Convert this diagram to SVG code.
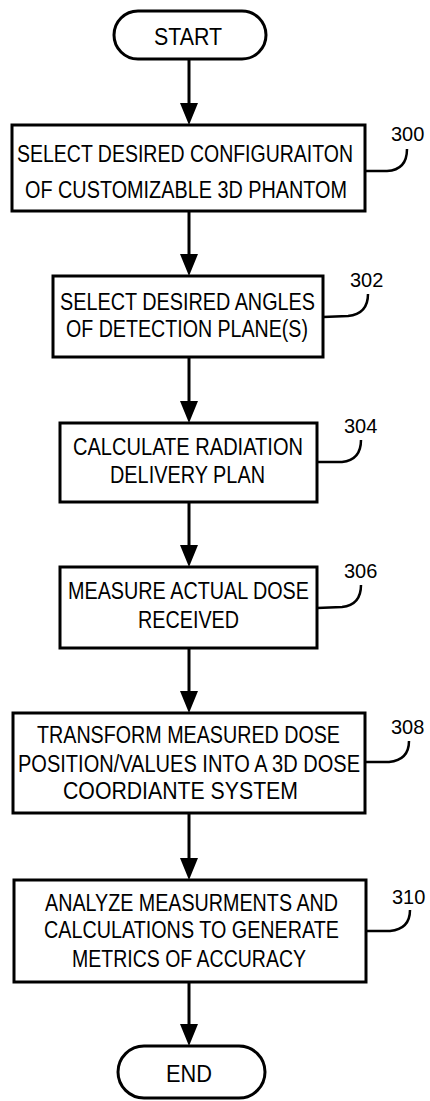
<svg xmlns="http://www.w3.org/2000/svg" width="430" height="1101" viewBox="0 0 430 1101">
<style>
.box{fill:#fff;stroke:#000;stroke-width:3}
.t{font-family:"Liberation Sans",Arial,sans-serif;font-size:24px;fill:#000;text-anchor:middle}
.n{font-family:"Liberation Sans",Arial,sans-serif;font-size:20px;fill:#000}
.c{fill:none;stroke:#000;stroke-width:3}
.ld{fill:none;stroke:#000;stroke-width:2.5}
</style>
<defs>
<marker id="ah" markerUnits="userSpaceOnUse" markerWidth="22" markerHeight="18" refX="12" refY="9" orient="auto" viewBox="0 0 22 18">
<path d="M0,0 L22,9 L0,18 z" fill="#000"/>
</marker>
</defs>
<rect width="430" height="1101" fill="#fff"/>
<g id="connectors">
<line class="c" x1="189" y1="60" x2="189" y2="115" marker-end="url(#ah)"/>
<line class="c" x1="189" y1="211" x2="189" y2="266" marker-end="url(#ah)"/>
<line class="c" x1="189" y1="357" x2="189" y2="413" marker-end="url(#ah)"/>
<line class="c" x1="189" y1="502" x2="189" y2="557" marker-end="url(#ah)"/>
<line class="c" x1="189" y1="648" x2="189" y2="703" marker-end="url(#ah)"/>
<line class="c" x1="189" y1="813" x2="189" y2="870" marker-end="url(#ah)"/>
<line class="c" x1="189" y1="982" x2="189" y2="1036" marker-end="url(#ah)"/>
</g>
<g id="start">
<rect class="box" x="114" y="11" width="152" height="48" rx="24"/>
<text class="t" x="188" y="45" textLength="68" lengthAdjust="spacingAndGlyphs">START</text>
</g>
<g id="n300">
<rect class="box" x="12" y="125" width="353" height="86"/>
<text class="t" transform="translate(185,162) scale(0.82,1)" textLength="409.8" lengthAdjust="spacingAndGlyphs">SELECT DESIRED CONFIGURAITON</text>
<text class="t" transform="translate(186,198) scale(0.82,1)" textLength="392.7" lengthAdjust="spacingAndGlyphs">OF CUSTOMIZABLE 3D PHANTOM</text>
<path class="ld" d="M365,171 L387,171 Q407,170 407,149"/>
<text class="n" x="391" y="141">300</text>
</g>
<g id="n302">
<rect class="box" x="53" y="276" width="270" height="81"/>
<text class="t" transform="translate(187.5,310) scale(0.82,1)" textLength="311" lengthAdjust="spacingAndGlyphs">SELECT DESIRED ANGLES</text>
<text class="t" transform="translate(187,337) scale(0.82,1)" textLength="295.1" lengthAdjust="spacingAndGlyphs">OF DETECTION PLANE(S)</text>
<path class="ld" d="M323,317 L348,316 Q368,314 368,294"/>
<text class="n" x="350" y="287">302</text>
</g>
<g id="n304">
<rect class="box" x="60" y="423" width="257" height="79"/>
<text class="t" transform="translate(188,455) scale(0.82,1)" textLength="280.5" lengthAdjust="spacingAndGlyphs">CALCULATE RADIATION</text>
<text class="t" transform="translate(187.5,483) scale(0.82,1)" textLength="189" lengthAdjust="spacingAndGlyphs">DELIVERY PLAN</text>
<path class="ld" d="M317,462 L342,462 Q361,460 361,440"/>
<text class="n" x="344" y="433">304</text>
</g>
<g id="n306">
<rect class="box" x="60" y="567" width="257" height="81"/>
<text class="t" transform="translate(188.5,599) scale(0.82,1)" textLength="293.9" lengthAdjust="spacingAndGlyphs">MEASURE ACTUAL DOSE</text>
<text class="t" transform="translate(188.5,628) scale(0.82,1)" textLength="123.2" lengthAdjust="spacingAndGlyphs">RECEIVED</text>
<path class="ld" d="M317,608 L342,607 Q361,605 361,585"/>
<text class="n" x="344" y="578">306</text>
</g>
<g id="n308">
<rect class="box" x="13" y="713" width="352" height="100"/>
<text class="t" transform="translate(188.5,743) scale(0.82,1)" textLength="369.5" lengthAdjust="spacingAndGlyphs">TRANSFORM MEASURED DOSE</text>
<text class="t" transform="translate(189,772) scale(0.82,1)" textLength="417.1" lengthAdjust="spacingAndGlyphs">POSITION/VALUES INTO A 3D DOSE</text>
<text class="t" transform="translate(180.5,799) scale(0.82,1)" textLength="286.6" lengthAdjust="spacingAndGlyphs">COORDIANTE SYSTEM</text>
<path class="ld" d="M365,762 L389,762 Q409,760 409,741"/>
<text class="n" x="391" y="734">308</text>
</g>
<g id="n310">
<rect class="box" x="14" y="880" width="352" height="102"/>
<text class="t" transform="translate(191.5,911) scale(0.82,1)" textLength="357.3" lengthAdjust="spacingAndGlyphs">ANALYZE MEASURMENTS AND</text>
<text class="t" transform="translate(191.5,938) scale(0.82,1)" textLength="359.8" lengthAdjust="spacingAndGlyphs">CALCULATIONS TO GENERATE</text>
<text class="t" transform="translate(189,967) scale(0.82,1)" textLength="285.4" lengthAdjust="spacingAndGlyphs">METRICS OF ACCURACY</text>
<path class="ld" d="M366,931 L390,931 Q410,929 410,910"/>
<text class="n" x="392" y="904">310</text>
</g>
<g id="end">
<rect class="box" x="118" y="1046" width="147" height="52" rx="26"/>
<text class="t" x="189" y="1082" textLength="46" lengthAdjust="spacingAndGlyphs">END</text>
</g>
</svg>
